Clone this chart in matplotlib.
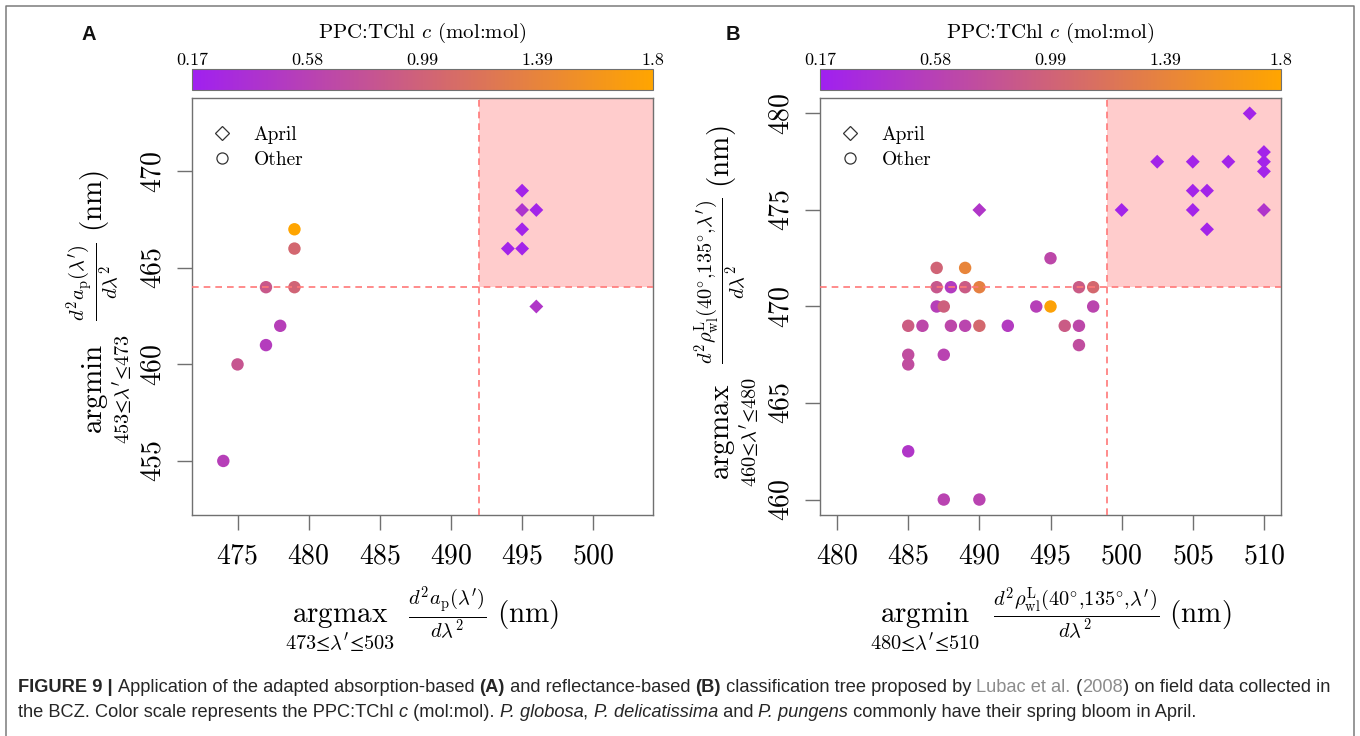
import numpy as np
import matplotlib
matplotlib.use("Agg")
import matplotlib.pyplot as plt
from matplotlib import font_manager
from matplotlib.colors import LinearSegmentedColormap, Normalize
from matplotlib.cm import ScalarMappable
from matplotlib.lines import Line2D
from matplotlib.patches import Rectangle
from matplotlib.transforms import IdentityTransform

plt.rcParams["mathtext.fontset"] = "cm"
plt.rcParams["font.family"] = "cmr10"
plt.rcParams["axes.formatter.use_mathtext"] = True

# ---- data -----------------------------------------------------------------
# (A) absorption-based tree
A_APRIL_X = [495, 495, 496, 495, 494, 495, 496]
A_APRIL_Y = [469, 468, 468, 467, 466, 466, 463]
A_APRIL_C = [0.22, 0.40, 0.22, 0.22, 0.22, 0.22, 0.45]

A_OTHER_X = [479, 479, 477, 479, 478, 477, 475, 474]
A_OTHER_Y = [467, 466, 464, 464, 462, 461, 460, 455]
A_OTHER_C = [1.80, 1.04, 0.86, 1.00, 0.55, 0.52, 0.82, 0.55]

# (B) reflectance-based tree
B_APRIL_X = [490, 500, 502.5, 505, 505, 505, 506, 506, 507.5, 509, 510, 510, 510, 510]
B_APRIL_Y = [475, 475, 477.5, 477.5, 476, 475, 476, 474, 477.5, 480, 478, 477.5, 477, 475]
B_APRIL_C = [0.45, 0.22, 0.22, 0.22, 0.22, 0.22, 0.22, 0.22, 0.22, 0.22, 0.22, 0.22, 0.22, 0.42]

B_OTHER_X = [485, 486, 485, 485, 485, 487, 487, 488, 489, 490, 489, 487, 487.5, 488, 489,
             490, 487.5, 487.5, 490, 492, 494, 495, 495, 496, 497, 497, 497, 498, 498]
B_OTHER_Y = [469, 469, 467.5, 467, 462.5, 472, 471, 471, 471, 471, 472, 470, 470, 469, 469,
             469, 467.5, 460, 460, 469, 470, 470, 472.5, 469, 469, 468, 471, 471, 470]
B_OTHER_C = [0.92, 0.65, 0.72, 0.72, 0.45, 1.00, 0.85, 0.50, 0.90, 1.35, 1.40, 0.55, 0.95, 0.65, 0.62,
             1.05, 0.60, 0.60, 0.60, 0.50, 0.55, 1.75, 0.65, 0.90, 0.65, 0.72, 0.90, 1.05, 0.62]

# search windows and split thresholds of the tree
A_XRANGE, A_YRANGE = (473, 503), (453, 473)
B_XRANGE, B_YRANGE = (480, 510), (460, 480)
A_XTHR, A_YTHR = 492, 464
B_XTHR, B_YTHR = 499, 471

A_XTICKS, A_YTICKS = [475, 480, 485, 490, 495, 500], [455, 460, 465, 470]
B_XTICKS, B_YTICKS = [480, 485, 490, 495, 500, 505, 510], [460, 465, 470, 475, 480]

CMIN, CMAX = 0.17, 1.8
CBAR_LABELS = ["0.17", "0.58", "0.99", "1.39", "1.8"]
CBAR_TITLE = r"PPC:TChl $c$ (mol:mol)"

A_XLABEL = (r"$\underset{473≤\lambda^{\prime}≤503}{\mathrm{argmax}}\;\;"
            r"\frac{d^2a_{\mathrm{p}}(\lambda^{\prime})}{d\lambda^2}\ (\mathrm{nm})$")
A_YLABEL = (r"$\underset{453≤\lambda^{\prime}≤473}{\mathrm{argmin}}\;\;"
            r"\frac{d^2a_{\mathrm{p}}(\lambda^{\prime})}{d\lambda^2}\ (\mathrm{nm})$")
B_XLABEL = (r"$\underset{480≤\lambda^{\prime}≤510}{\mathrm{argmin}}\;\;"
            r"\frac{d^2\rho_{\mathrm{wl}}^{\mathrm{L}}(40^{\circ}{,}135^{\circ}{,}\lambda^{\prime})}{d\lambda^2}"
            r"\ (\mathrm{nm})$")
B_YLABEL = (r"$\underset{460≤\lambda^{\prime}≤480}{\mathrm{argmax}}\;\;"
            r"\frac{d^2\rho_{\mathrm{wl}}^{\mathrm{L}}(40^{\circ}{,}135^{\circ}{,}\lambda^{\prime})}{d\lambda^2}"
            r"\ (\mathrm{nm})$")

CAPTION_1 = [("FIGURE 9 | ", "b"), ("Application of the adapted absorption-based ", "n"),
             ("(A)", "b"), (" and reflectance-based ", "n"), ("(B)", "b"),
             (" classification tree proposed by ", "n"), ("Lubac et al.", "l"), (" (", "n"),
             ("2008", "l"), (") on field data collected in", "n")]
CAPTION_2 = [("the BCZ. Color scale represents the PPC:TChl ", "n"), ("c", "i"),
             (" (mol:mol). ", "n"), ("P. globosa", "i"), (", ", "n"), ("P. delicatissima", "i"),
             (" and ", "n"), ("P. pungens", "i"), (" commonly have their spring bloom in April.", "n")]

# ---- style ----------------------------------------------------------------
W, H = 1360, 736
GREY = "#707070"
INK = "#262626"
LINK = "#8c8c8c"
SHADE = "#ffcccc"
DASH = "#ff7878"

cmap = LinearSegmentedColormap.from_list("ppc", ["#a020f0", "#ffa500"])
norm = Normalize(CMIN, CMAX)

names = {f.name for f in font_manager.fontManager.ttflist}
CAP_FONT = "Liberation Sans Narrow" if "Liberation Sans Narrow" in names else "Liberation Sans"


def padded(rng):
    lo, hi = rng
    d = 0.04 * (hi - lo)
    return lo - d, hi + d


def panel(fig, rect, cbrect, letter, letter_x, xr, yr, xthr, ythr, xticks, yticks,
          ax_, ay_, ac_, ox_, oy_, oc_, xlabel, ylabel):
    ax = fig.add_axes(rect)
    xlim, ylim = padded(xr), padded(yr)
    ax.set_xlim(xlim)
    ax.set_ylim(ylim)

    # region of the tree that flags the spring bloom
    ax.add_patch(Rectangle((xthr, ythr), xlim[1] - xthr, ylim[1] - ythr,
                           facecolor=SHADE, edgecolor="none", zorder=0))
    ax.scatter(ox_, oy_, c=oc_, cmap=cmap, norm=norm, marker="o", s=80,
               edgecolors="none", zorder=2)
    ax.scatter(ax_, ay_, c=ac_, cmap=cmap, norm=norm, marker="D", s=50,
               edgecolors="none", zorder=2)
    ax.axvline(xthr, color=DASH, lw=1.2, dashes=(4, 3), zorder=3)
    ax.axhline(ythr, color=DASH, lw=1.2, dashes=(4, 3), zorder=3)

    ax.set_xticks(xticks)
    ax.set_yticks(yticks)
    ax.tick_params(length=10.5, width=1.0, color=GREY, labelsize=20)
    ax.tick_params(axis="x", pad=10)
    ax.tick_params(axis="y", labelrotation=90, pad=8)
    for lab in ax.get_yticklabels():
        lab.set_va("center")
    for sp in ax.spines.values():
        sp.set_color(GREY)
        sp.set_linewidth(1.0)

    ax.set_xlabel(xlabel, fontsize=21, va="center")
    ax.xaxis.set_label_coords(0.5, -0.252)
    ax.set_ylabel(ylabel, fontsize=21, va="center")
    ax.yaxis.set_label_coords(-0.2, 0.5)

    handles = [Line2D([], [], ls="none", marker="D", ms=7.2, mfc="none", mec="#333333", mew=0.9),
               Line2D([], [], ls="none", marker="o", ms=8, mfc="none", mec="#333333", mew=0.9)]
    ax.legend(handles, ["April", "Other"], loc="upper left", bbox_to_anchor=(0.005, 0.975),
              frameon=False, fontsize=14, handlelength=1.0, handletextpad=1.15,
              labelspacing=0.38, borderpad=0.4)

    # colour key
    cax = fig.add_axes(cbrect)
    cb = fig.colorbar(ScalarMappable(norm=norm, cmap=cmap), cax=cax, orientation="horizontal")
    cb.set_ticks(np.linspace(CMIN, CMAX, len(CBAR_LABELS)))
    cb.set_ticklabels(CBAR_LABELS)
    cax.xaxis.set_ticks_position("top")
    cax.tick_params(length=0, labelsize=13, pad=1)
    cb.outline.set_edgecolor(GREY)
    cb.outline.set_linewidth(0.8)
    fig.text(cbrect[0] + cbrect[2] / 2, 1 - 38 / H, CBAR_TITLE, fontsize=15,
             ha="center", va="baseline")

    fig.text(letter_x / W, 1 - 40 / H, letter, family="Liberation Sans",
             fontweight="bold", fontsize=14.5, ha="left", va="baseline", color="#111111")
    return ax


def run_width(fig, renderer, s, **kw):
    t1 = fig.text(0, 0, "|" + s + "|", transform=IdentityTransform(), **kw)
    t2 = fig.text(0, 0, "||", transform=IdentityTransform(), **kw)
    w = t1.get_window_extent(renderer).width - t2.get_window_extent(renderer).width
    t1.remove()
    t2.remove()
    return w


def run_style(style, size):
    kw = dict(family=CAP_FONT, fontsize=size, color=INK)
    if style == "b":
        kw["fontweight"] = "bold"
    elif style == "i":
        kw["fontstyle"] = "italic"
    elif style == "l":
        kw["color"] = LINK
    return kw


def draw_caption(fig, renderer, runs, x0, base, size):
    x = x0
    for s, style in runs:
        kw = run_style(style, size)
        fig.text(x, H - base, s, transform=IdentityTransform(), va="baseline", ha="left", **kw)
        x += run_width(fig, renderer, s, **kw)


def main():
    fig = plt.figure(figsize=(W / 100, H / 100), dpi=100)
    fig.patch.set_facecolor("white")

    panel(fig, [192 / W, 1 - 515 / H, 461 / W, 417 / H], [192 / W, 1 - 90 / H, 461 / W, 21 / H],
          "A", 81, A_XRANGE, A_YRANGE, A_XTHR, A_YTHR, A_XTICKS, A_YTICKS,
          A_APRIL_X, A_APRIL_Y, A_APRIL_C, A_OTHER_X, A_OTHER_Y, A_OTHER_C, A_XLABEL, A_YLABEL)
    panel(fig, [820 / W, 1 - 515 / H, 461 / W, 417 / H], [820 / W, 1 - 90 / H, 461 / W, 21 / H],
          "B", 726, B_XRANGE, B_YRANGE, B_XTHR, B_YTHR, B_XTICKS, B_YTICKS,
          B_APRIL_X, B_APRIL_Y, B_APRIL_C, B_OTHER_X, B_OTHER_Y, B_OTHER_C, B_XLABEL, B_YLABEL)

    # frame around the figure
    fig.add_artist(Line2D([6 / W, 6 / W, 1354 / W, 1354 / W], [0, 1 - 6 / H, 1 - 6 / H, 0],
                          transform=fig.transFigure, color="#7a7a7a", lw=1.1))

    # caption, sized so the first line spans the frame
    fig.canvas.draw()
    renderer = fig.canvas.get_renderer()
    ref = sum(run_width(fig, renderer, s, **run_style(st, 10)) for s, st in CAPTION_1)
    size = 10 * 1320 / ref
    draw_caption(fig, renderer, CAPTION_1, 18, 692, size)
    draw_caption(fig, renderer, CAPTION_2, 18, 717, size)

    fig.savefig("out.png", dpi=100)


if __name__ == "__main__":
    main()
